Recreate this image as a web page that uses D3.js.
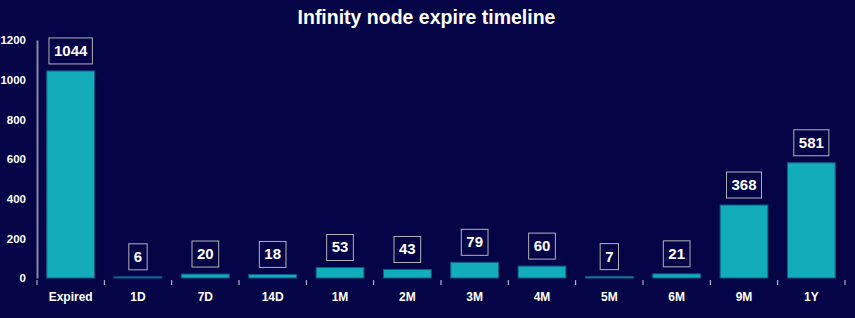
<!DOCTYPE html>
<html><head><meta charset="utf-8">
<script src="https://cdn.jsdelivr.net/npm/d3@7"></script>
<style>html,body{margin:0;padding:0;background:#040446;}svg{display:block;}</style>
</head><body>
<script>
const categories = ["Expired","1D","7D","14D","1M","2M","3M","4M","5M","6M","9M","1Y"];
const values = [1044,6,20,18,53,43,79,60,7,21,368,581];
const yTicks = [0,200,400,600,800,1000,1200];
const title = "Infinity node expire timeline";

const W = 855, H = 318;
const svg = d3.select("body").append("svg").attr("width", W).attr("height", H);
svg.append("rect").attr("width", W).attr("height", H).attr("fill", "#040446");

const x = d3.scaleBand().domain(categories).range([37, 845]).paddingInner(0.29).paddingOuter(0.145);
const y = d3.scaleLinear().domain([0, 1200]).range([278, 40]);
const font = "'Liberation Sans', Arial, sans-serif";

svg.append("text").attr("x", W/2 - 1).attr("y", 24).attr("text-anchor", "middle")
  .attr("fill", "#fff").attr("font-family", font).attr("font-weight", "bold").attr("font-size", 19.5)
  .text(title);

// y axis
const ya = svg.append("g").attr("transform", "translate(37,0)")
  .call(d3.axisLeft(y).tickValues(yTicks).tickFormat(d3.format("d")).tickSize(0).tickPadding(11));
ya.select(".domain").attr("stroke", "#8a8aa6").attr("stroke-width", 2);
ya.selectAll("text").attr("fill", "#fff").attr("font-family", font).attr("font-weight", "bold").attr("font-size", 11.5);

// x axis: ticks at band boundaries
const xa = svg.append("g").attr("transform", "translate(0,278)");
const bounds = categories.map(c => x(c) - x.step()*x.paddingOuter()).concat([845]);
xa.selectAll("line.t").data(bounds).join("line")
  .attr("x1", d => d).attr("x2", d => d).attr("y1", 2).attr("y2", 7)
  .attr("stroke", "#d0d0e0").attr("stroke-width", 1);
xa.selectAll("text").data(categories).join("text")
  .attr("x", d => x(d) + x.bandwidth()/2).attr("y", 23).attr("text-anchor", "middle")
  .attr("fill", "#fff").attr("font-family", font).attr("font-weight", "bold").attr("font-size", 12)
  .text(d => d);

// bars with shadow
const data = categories.map((c,i) => ({c, v: values[i]}));
svg.append("g").selectAll("rect").data(data).join("rect")
  .attr("x", d => x(d.c) + 3).attr("y", d => y(d.v) + 3)
  .attr("width", x.bandwidth()).attr("height", d => Math.max(0, y(0) - y(d.v) - 3))
  .attr("fill", "#020236");
svg.append("g").selectAll("rect").data(data).join("rect")
  .attr("x", d => x(d.c)).attr("y", d => y(d.v))
  .attr("width", x.bandwidth()).attr("height", d => Math.max(1, y(0) - y(d.v)))
  .attr("fill", "#12acba").attr("stroke", "#0b5c86").attr("stroke-width", 1);

// labels
const lg = svg.append("g").selectAll("g").data(data).join("g");
lg.each(function(d){
  const g = d3.select(this);
  const cx = x(d.c) + x.bandwidth()/2;
  const bottom = y(d.v) - 7;
  const t = g.append("text").attr("x", cx).attr("y", bottom - 8).attr("text-anchor", "middle")
    .attr("fill", "#fff").attr("font-family", font).attr("font-weight", "bold").attr("font-size", 15)
    .text(d.v);
  const w = t.node().getComputedTextLength();
  g.insert("rect", "text").attr("x", cx - w/2 - 5).attr("y", bottom - 26)
    .attr("width", w + 10).attr("height", 26)
    .attr("fill", "#040446").attr("stroke", "#b4b4b4").attr("stroke-width", 1);
});
</script>
</body></html>
